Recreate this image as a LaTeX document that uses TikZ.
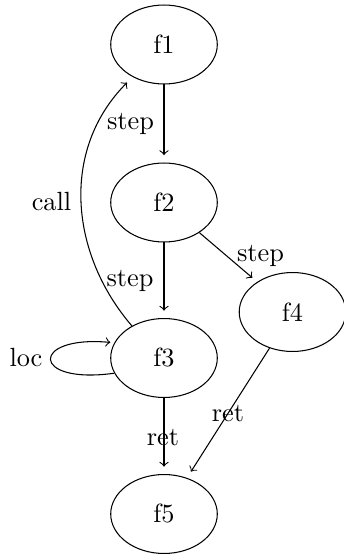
\documentclass[tikz,border=0pt]{standalone}
\usetikzlibrary{shapes.geometric}
\begin{document}
\begin{tikzpicture}[x=0.38pt,y=-0.38pt,
  state/.style={draw, ellipse, minimum width=40.5pt, minimum height=30pt, inner sep=0pt},
  edgearrow/.style={->, shorten >=2.8pt},
  lbl/.style={anchor=base, inner sep=0pt}]
\useasboundingbox (0,0) rectangle (344,556);
\node[state] (f1) at (164,44.5) {f1};
\node[state] (f2) at (164,202.5) {f2};
\node[state] (f3) at (164,358) {f3};
\node[state] (f4) at (292.5,312) {f4};
\node[state] (f5) at (164,514) {f5};
\draw[edgearrow] (f1) -- (f2);
\draw[edgearrow] (f2) -- (f3);
\draw[edgearrow, shorten >=2.4pt] (f2) -- (f4);
\draw[edgearrow] (f3) -- (f5);
\draw[edgearrow] (f4) -- (f5);
\draw[edgearrow, shorten >=3pt] (f3.135) .. controls (70,254) and (60,150) .. (f1.226);
\draw[edgearrow, shorten >=1.5pt] (f3.197) .. controls (30,385) and (30,335) .. (f3.163);
\node[lbl] (l1) at (130.5,130) {step};
\node[lbl] (l2) at (51.5,210.7) {call};
\node[lbl] (l3) at (260.5,261.7) {step};
\node[lbl] (l4) at (130,286) {step};
\node[lbl] (l5) at (26,366.7) {loc};
\node[lbl] (l6) at (163,445) {ret};
\node[lbl] (l7) at (228,421.7) {ret};
\end{tikzpicture}
\end{document}
